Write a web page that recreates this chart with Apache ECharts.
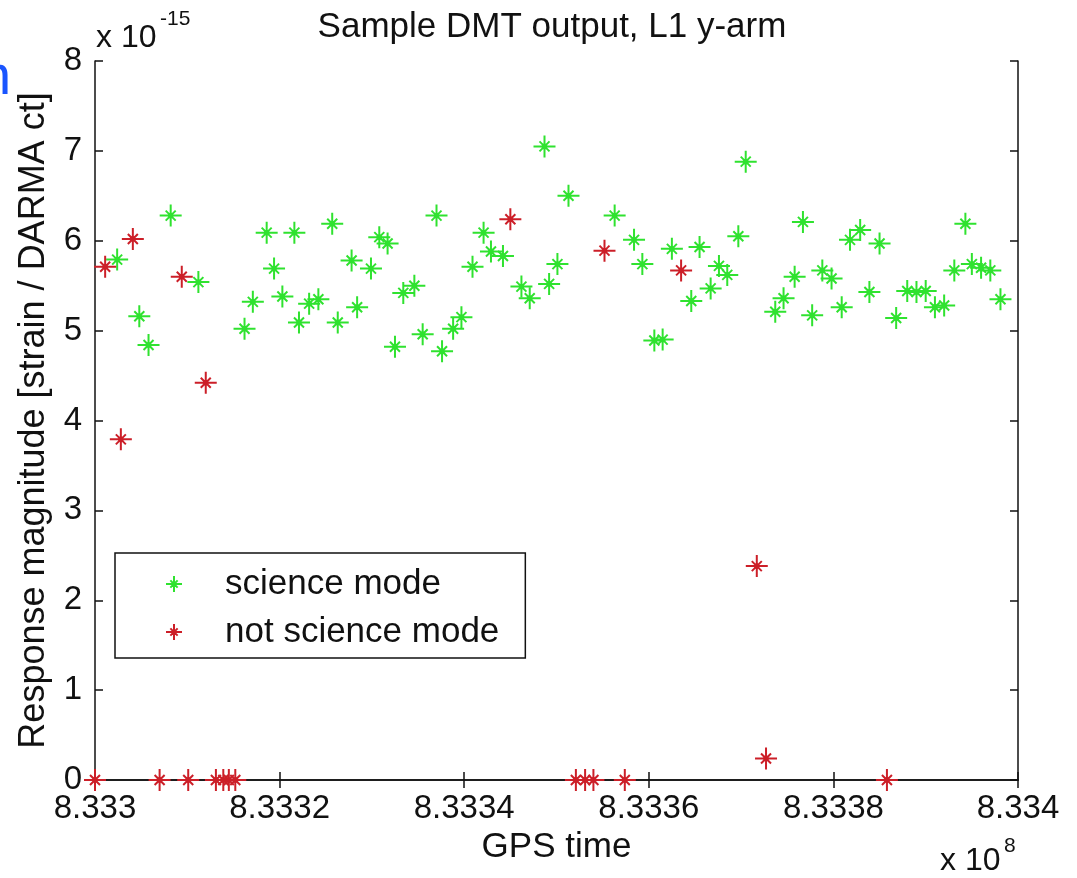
<!DOCTYPE html>
<html>
<head>
<meta charset="utf-8">
<title>Sample DMT output, L1 y-arm</title>
<script src="https://cdn.jsdelivr.net/npm/echarts@6/dist/echarts.min.js"></script>
<style>
  html, body { margin: 0; padding: 0; background: #ffffff; }
  #chart { width: 1077px; height: 878px; }
</style>
</head>
<body>
<div id="chart"></div>
<script>
// GPS time in seconds; response magnitude in units of 1e-15 strain / DARMA ct
const scienceTime = [
  833302400, 833304800, 833305800, 833308200, 833311200, 833316200, 833317100, 833318600,
  833319400, 833320300, 833321600, 833322100, 833323200, 833324200, 833325700, 833326300,
  833327800, 833328400, 833329900, 833330800, 833331700, 833332500, 833333400, 833334600,
  833335500, 833337000, 833337600, 833338800, 833339700, 833340900, 833342100, 833342900,
  833344200, 833346200, 833347100, 833348700, 833349200, 833350100, 833351300, 833356300,
  833358400, 833359300, 833360600, 833361500, 833362500, 833364600, 833365500, 833366700,
  833367600, 833368500, 833369700, 833370500, 833373700, 833374600, 833375800, 833376700,
  833377700, 833378800, 833379800, 833380900, 833381800, 833382900, 833383900, 833385000,
  833386800, 833388000, 833389000, 833390000, 833391000, 833392000, 833393100, 833394300,
  833395000, 833396000, 833397000, 833398100
];
const scienceResp = [
  5.79, 5.16, 4.84, 6.28, 5.54, 5.02, 5.32, 6.09,
  5.69, 5.38, 6.09, 5.09, 5.30, 5.35, 6.19, 5.09,
  5.78, 5.26, 5.69, 6.04, 5.97, 4.82, 5.42, 5.50,
  4.96, 6.28, 4.77, 5.02, 5.15, 5.71, 6.09, 5.88,
  5.83, 5.49, 5.36, 7.05, 5.52, 5.74, 6.50, 6.28,
  6.01, 5.74, 4.89, 4.90, 5.91, 5.33, 5.93, 5.47,
  5.72, 5.62, 6.05, 6.88, 5.21, 5.36, 5.60, 6.21,
  5.17, 5.67, 5.58, 5.26, 6.01, 6.12, 5.43, 5.97,
  5.14, 5.44, 5.43, 5.44, 5.26, 5.28, 5.67, 6.19,
  5.74, 5.70, 5.67, 5.35
];
const otherTime = [
  833300000, 833301100, 833302800, 833304100, 833307000, 833309400, 833310100, 833312000,
  833313100, 833313900, 833314500, 833315200, 833345000, 833352100, 833353100, 833354000,
  833355200, 833357400, 833363500, 833371700, 833372700, 833385800
];
const otherResp = [
  0, 5.71, 3.79, 6.02, 0, 5.60, 0, 4.42,
  0, 0, 0, 0, 6.24, 0, 0, 0,
  5.89, 0, 5.67, 2.38, 0.24, 0
];
const seriesNames = ['science mode', 'not science mode'];
const xTicks = { min: 833300000, max: 833400000, step: 20000 };
const yTicks = { min: 0, max: 8, step: 1 };
const titleText = 'Sample DMT output, L1 y-arm';
const xName = 'GPS time';
const yName = 'Response magnitude [strain / DARMA ct]';

// asterisk marker: long + arms, short x arms, small filled core
const STAR = 'path://M0,-11L0,11M-11,0L11,0M-5,-5L5,5M-5,5L5,-5M-2.5,0L0,-2.5L2.5,0L0,2.5Z';
const GREEN = '#2fe22f';
const RED = '#cc1f28';
const INK = '#111111';
const FONT = '"Liberation Sans", Arial, Helvetica, sans-serif';

const zip = (xs, ys) => xs.map((x, i) => [x, ys[i]]);
const fmtTime = v => parseFloat((v / 1e8).toFixed(5)).toString();

const frameLine = { show: true, lineStyle: { color: INK, width: 1.5 } };
const innerTick = { show: true, inside: true, length: 8, lineStyle: { color: INK, width: 1.5 } };

const chart = echarts.init(document.getElementById('chart'), null, { renderer: 'canvas' });
chart.setOption({
  backgroundColor: '#ffffff',
  animation: false,
  grid: { left: 95, right: 59, top: 61, bottom: 98, containLabel: false },
  xAxis: [
    {
      type: 'value', position: 'bottom',
      min: xTicks.min, max: xTicks.max, interval: xTicks.step,
      axisLine: frameLine, axisTick: innerTick, splitLine: { show: false },
      axisLabel: { color: INK, fontSize: 33, fontFamily: FONT, margin: 12, formatter: fmtTime,
                   showMinLabel: true, showMaxLabel: true },
      name: xName, nameLocation: 'middle', nameGap: 48,
      nameTextStyle: { color: INK, fontSize: 35, fontFamily: FONT }
    },
    {
      type: 'value', position: 'top',
      min: xTicks.min, max: xTicks.max, interval: xTicks.step,
      axisLine: frameLine, axisTick: innerTick, splitLine: { show: false },
      axisLabel: { show: false }
    }
  ],
  yAxis: [
    {
      type: 'value', position: 'left',
      min: yTicks.min, max: yTicks.max, interval: yTicks.step,
      axisLine: frameLine, axisTick: innerTick, splitLine: { show: false },
      axisLabel: { color: INK, fontSize: 33, fontFamily: FONT, margin: 13 },
      name: yName, nameLocation: 'middle', nameGap: 43, nameRotate: 90,
      nameTextStyle: { color: INK, fontSize: 36, fontFamily: FONT }
    },
    {
      type: 'value', position: 'right',
      min: yTicks.min, max: yTicks.max, interval: yTicks.step,
      axisLine: frameLine, axisTick: innerTick, splitLine: { show: false },
      axisLabel: { show: false }
    }
  ],
  legend: {
    left: 115, top: 553,
    orient: 'vertical',
    padding: [13, 26, 8, 50],
    itemGap: 12,
    itemWidth: 16, itemHeight: 16,
    borderColor: INK, borderWidth: 1.5,
    backgroundColor: '#ffffff',
    selectedMode: false,
    textStyle: { color: INK, fontSize: 35, fontFamily: FONT, lineHeight: 36, padding: [0, 0, 0, 38] },
    data: [
      { name: seriesNames[0], icon: STAR },
      { name: seriesNames[1], icon: STAR }
    ]
  },
  series: [
    {
      name: seriesNames[0], type: 'scatter', xAxisIndex: 0, yAxisIndex: 0,
      symbol: STAR, symbolSize: 22, clip: false,
      itemStyle: { color: GREEN, borderColor: GREEN, borderWidth: 2, opacity: 1 },
      data: zip(scienceTime, scienceResp), z: 3
    },
    {
      name: seriesNames[1], type: 'scatter', xAxisIndex: 0, yAxisIndex: 0,
      symbol: STAR, symbolSize: 22, clip: false,
      itemStyle: { color: RED, borderColor: RED, borderWidth: 2, opacity: 1 },
      data: zip(otherTime, otherResp), z: 4
    }
  ],
  graphic: [
    { type: 'text', x: 552, y: 27, silent: true,
      style: { text: titleText, fill: INK, font: '35px ' + FONT, textAlign: 'center', textVerticalAlign: 'middle' } },
    { type: 'text', x: 96, y: 38, silent: true,
      style: { text: 'x 10', fill: INK, font: '32px ' + FONT, textAlign: 'left', textVerticalAlign: 'middle' } },
    { type: 'text', x: 160, y: 19, silent: true,
      style: { text: '-15', fill: INK, font: '21px ' + FONT, textAlign: 'left', textVerticalAlign: 'middle' } },
    { type: 'text', x: 940, y: 861, silent: true,
      style: { text: 'x 10', fill: INK, font: '32px ' + FONT, textAlign: 'left', textVerticalAlign: 'middle' } },
    { type: 'text', x: 1004, y: 846, silent: true,
      style: { text: '8', fill: INK, font: '21px ' + FONT, textAlign: 'left', textVerticalAlign: 'middle' } },
    { type: 'text', x: -20, y: 79, silent: true,
      style: { text: 'n', fill: '#1a55ff', font: '56px ' + FONT, textAlign: 'left', textVerticalAlign: 'middle' } }
  ]
});
</script>
</body>
</html>
